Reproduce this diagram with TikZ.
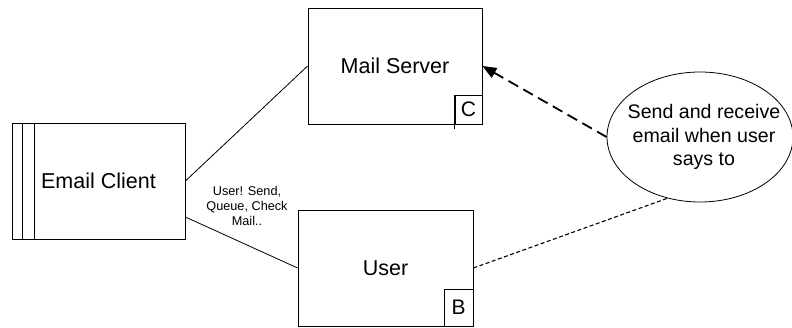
\documentclass[tikz,border=0pt]{standalone}
\usepackage{fontspec}
\setmainfont{Liberation Sans}
\usetikzlibrary{shapes.geometric,arrows.meta}
\begin{document}
\begin{tikzpicture}[x=1pt,y=1pt,
  boxnode/.style={draw=black,line width=0.8pt,fill=white,minimum width=#1,minimum height=116pt,inner sep=0pt,font=\fontsize{21.5}{25}\selectfont},
  tagbox/.style={draw=black,line width=0.8pt,inner sep=0pt,font=\fontsize{21}{24}\selectfont},
  link/.style={draw=black,line width=0.8pt},
  bigdash/.style={draw=black,line width=1.8pt,dash pattern=on 11pt off 6pt,-{Triangle[length=14pt,width=11pt]}},
  smalldash/.style={draw=black,line width=1.1pt,dash pattern=on 4pt off 2.5pt}]
\useasboundingbox (0,0) rectangle (792,327);
% boxes
\node[boxnode=173pt] (ec) at (98.5,146) {Email Client};
\node[boxnode=174pt] (ms) at (395,261) {Mail Server};
\node[boxnode=175pt] (us) at (385.5,59) {User};
% side bars of Email Client
\draw[link] ([xshift=11pt]ec.north west) -- ([xshift=11pt]ec.south west);
\draw[link] ([xshift=23pt]ec.north west) -- ([xshift=23pt]ec.south west);
% tags
\node[tagbox,minimum width=27pt,minimum height=29pt,anchor=south east] (tc) at (ms.south east) {C};
\draw[link] (tc.north west) -- ([yshift=-5pt]tc.south west);
\node[tagbox,minimum width=29pt,minimum height=37pt,anchor=south east] (tb) at (us.south east) {B};
% ellipse
\node[ellipse,draw=black,line width=0.8pt,fill=white,minimum width=186pt,minimum height=130pt,inner sep=0pt] (el) at (700,190) {};
\node[align=center,font=\fontsize{19.6}{23.5}\selectfont,inner sep=0pt] (elt) at ([xshift=4pt]el.center) {Send and receive\\email when user\\says to};
% connectors
\draw[link] (ec.east) -- (ms.west);
\draw[link] ([yshift=-36pt]ec.east) -- (us.west);
\node[align=center,font=\fontsize{12.7}{15}\selectfont,inner sep=0pt] (lbl) at (247,121) {User! Send,\\Queue, Check\\Mail..};
\draw[bigdash] (el.west) -- (ms.east);
\draw[smalldash] (us.east) -- (el.242);
\end{tikzpicture}
\end{document}
